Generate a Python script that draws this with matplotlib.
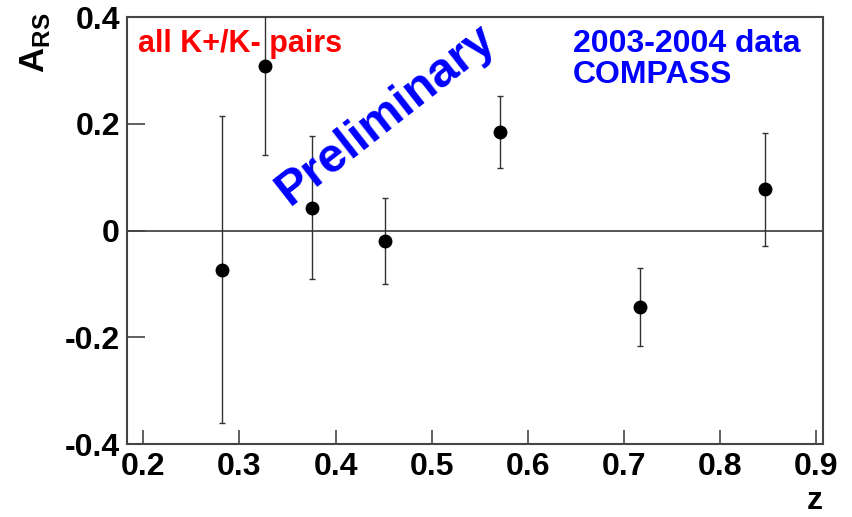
import numpy as np
import matplotlib.pyplot as plt

z = [0.282, 0.327, 0.375, 0.451, 0.571, 0.717, 0.847]
a_rs = [-0.073, 0.308, 0.043, -0.020, 0.185, -0.143, 0.077]
a_err = [0.288, 0.166, 0.134, 0.081, 0.067, 0.073, 0.105]

plt.rcParams['font.family'] = ['Liberation Sans', 'DejaVu Sans']
plt.rcParams['font.weight'] = 'bold'
plt.rcParams['mathtext.fontset'] = 'custom'
plt.rcParams['mathtext.bf'] = 'Liberation Sans:bold'
plt.rcParams['mathtext.rm'] = 'Liberation Sans:bold'

fig = plt.figure(figsize=(8.52, 5.17), dpi=100)
ax = fig.add_axes([0.149, 0.141, 0.817, 0.826])

ax.axhline(0, color='#555555', lw=1.4, zorder=1)
ax.errorbar(z, a_rs, yerr=a_err, fmt='o', color='black', ms=9,
            ecolor='#333333', elinewidth=1.0, capsize=2, capthick=1.0, zorder=3)

ax.set_xlim(0.183, 0.907)
ax.set_ylim(-0.4, 0.4)
ax.set_xticks(np.arange(0.2, 0.91, 0.1))
ax.set_yticks([-0.4, -0.2, 0, 0.2, 0.4])
ax.set_xticklabels(['0.2', '0.3', '0.4', '0.5', '0.6', '0.7', '0.8', '0.9'])
ax.set_yticklabels(['-0.4', '-0.2', '0', '0.2', '0.4'])
ax.tick_params(direction='in', width=1.2, labelsize=23, color='#444444')
ax.tick_params(axis='x', length=10, pad=6)
ax.tick_params(axis='y', length=13, pad=5)
for s in ax.spines.values():
    s.set_color('#444444')
    s.set_linewidth(1.5)

ax.text(0.1945, 0.334, 'all K+/K- pairs', color='red', fontsize=22,
        fontweight='bold', va='baseline')
ax.text(0.647, 0.334, '2003-2004 data', color='blue', fontsize=23,
        fontweight='bold', va='baseline')
ax.text(0.647, 0.277, 'COMPASS', color='blue', fontsize=23,
        fontweight='bold', va='baseline')
ax.text(0.452, 0.216, 'Preliminary', color='blue', fontsize=35,
        fontweight='bold', rotation=38, ha='center', va='center')

fig.text(0.041, 0.918, r'$\mathbf{A}_{\mathbf{RS}}$', rotation=90, fontsize=25,
         ha='center', va='center')
fig.text(0.966, 0.016, 'z', fontsize=23, fontweight='bold', ha='right',
         va='baseline')

fig.savefig('out.png', dpi=100)
